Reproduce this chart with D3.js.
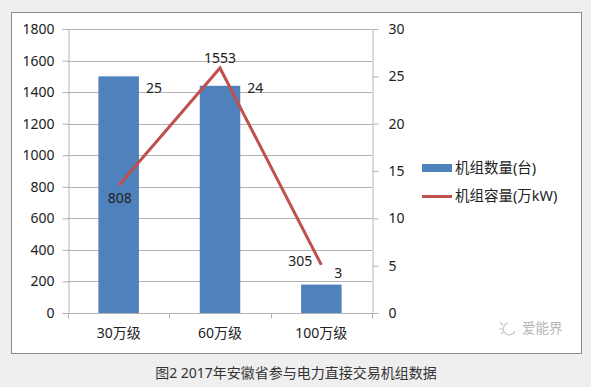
<!DOCTYPE html>
<html>
<head>
<meta charset="utf-8">
<script src="https://cdn.jsdelivr.net/npm/d3@7"></script>
<style>
  body { margin: 0; background: #efefef; }
  text { font-family: "Noto Sans", "Noto Sans CJK SC", sans-serif; }
</style>
</head>
<body>
<div id="chart"></div>
<script>
const categories = ["30万级", "60万级", "100万级"];
const unitCounts = [25, 24, 3]; // 机组数量(台), right axis
const capacities = [808, 1553, 305]; // 机组容量(万kW), left axis
const leftTicks = [0, 200, 400, 600, 800, 1000, 1200, 1400, 1600, 1800];
const rightTicks = [0, 5, 10, 15, 20, 25, 30];
const seriesNames = ["机组数量(台)", "机组容量(万kW)"];
const caption = "图2 2017年安徽省参与电力直接交易机组数据";

const width = 591, height = 387;
const plot = { left: 68, right: 372, top: 29, bottom: 313 };
const blue = "#4f81bd", red = "#c0504d", gridColor = "#b3b3b3";

const svg = d3.select("#chart").append("svg")
  .attr("width", width).attr("height", height);

// white chart panel
svg.append("rect")
  .attr("x", 11.5).attr("y", 12.5)
  .attr("width", 570).attr("height", 341)
  .attr("fill", "#fff").attr("stroke", "#8c8c8c");

const x = d3.scaleBand().domain(categories)
  .range([plot.left, plot.right]).paddingInner(0.6).paddingOuter(0.3);
const band = d3.scaleBand().domain(categories).range([plot.left, plot.right]);
const yL = d3.scaleLinear().domain([0, 1800]).range([plot.bottom, plot.top]);
const yR = d3.scaleLinear().domain([0, 30]).range([plot.bottom, plot.top]);

// gridlines
svg.append("g").selectAll("line").data(leftTicks).join("line")
  .attr("x1", plot.left).attr("x2", plot.right)
  .attr("y1", d => Math.round(yL(d)) + 0.5).attr("y2", d => Math.round(yL(d)) + 0.5)
  .attr("stroke", gridColor);

// left axis
const gL = svg.append("g").attr("transform", `translate(${plot.left + 0.5},0)`)
  .call(d3.axisLeft(yL).tickValues(leftTicks).tickFormat(d3.format("d")).tickSize(6).tickPadding(8));
// right axis
const gR = svg.append("g").attr("transform", `translate(${plot.right + 0.5},0)`)
  .call(d3.axisRight(yR).tickValues(rightTicks).tickSize(6).tickPadding(10));
// bottom axis
const gB = svg.append("g").attr("transform", `translate(0,${plot.bottom + 0.5})`)
  .call(d3.axisBottom(band).tickSize(0).tickPadding(15));
gB.selectAll(".cat-tick").data(d3.range(categories.length + 1)).join("line")
  .attr("class", "cat-tick")
  .attr("x1", i => Math.round(plot.left + i * band.bandwidth()) + 0.5)
  .attr("x2", i => Math.round(plot.left + i * band.bandwidth()) + 0.5)
  .attr("y1", 0).attr("y2", 5).attr("stroke", gridColor);

[gL, gR, gB].forEach(g => {
  g.select(".domain").attr("stroke", gridColor);
  g.selectAll(".tick line").attr("stroke", gridColor);
  g.selectAll(".tick text").attr("fill", "#222").style("font-size", "14px");
});
gB.select(".domain").attr("d", `M${plot.left},0H${plot.right}`);

// bars
svg.append("g").selectAll("rect").data(unitCounts).join("rect")
  .attr("x", (d, i) => x(categories[i]))
  .attr("width", x.bandwidth())
  .attr("y", d => yR(d))
  .attr("height", d => plot.bottom - yR(d))
  .attr("fill", blue);

// bar labels
svg.append("g").selectAll("text").data(unitCounts).join("text")
  .attr("x", (d, i) => i < 2 ? x(categories[i]) + x.bandwidth() + 7 : x(categories[i]) + x.bandwidth() / 2 + 17)
  .attr("y", (d, i) => i < 2 ? yR(25) + 17 : yR(d) - 7)
  .attr("text-anchor", (d, i) => i < 2 ? "start" : "middle")
  .attr("fill", "#222").style("font-size", "14px")
  .text(d => d);

// line
const cx = i => x(categories[i]) + x.bandwidth() / 2;
svg.append("path")
  .datum(capacities)
  .attr("d", d3.line().x((d, i) => cx(i)).y(d => yL(d)))
  .attr("fill", "none").attr("stroke", red).attr("stroke-width", 3)
  .attr("stroke-linejoin", "miter");

// line labels
const lineLabelOffset = [[1, 17], [0, -5], [-21, 1]];
svg.append("g").selectAll("text").data(capacities).join("text")
  .attr("x", (d, i) => cx(i) + lineLabelOffset[i][0])
  .attr("y", (d, i) => yL(d) + lineLabelOffset[i][1])
  .attr("text-anchor", "middle")
  .attr("fill", "#222").style("font-size", "14px")
  .text(d => d);

// legend
const legend = svg.append("g").attr("transform", "translate(422,168)");
legend.append("rect").attr("x", 0).attr("y", -4).attr("width", 30).attr("height", 8).attr("fill", blue);
legend.append("line").attr("x1", 0).attr("x2", 30).attr("y1", 28.5).attr("y2", 28.5)
  .attr("stroke", red).attr("stroke-width", 3);
legend.selectAll("text").data(seriesNames).join("text")
  .attr("x", 33).attr("y", (d, i) => i * 28 + 5)
  .attr("fill", "#222").style("font-size", "14.5px")
  .text(d => d);

// watermark
const wm = svg.append("g").attr("transform", "translate(500,328)");
wm.append("path")
  .attr("d", "M0,-6 l3,3 M-1,1 h4 M1,6 l3,-3 M8,-5 a6,6 0 1,0 7,8")
  .attr("fill", "none").attr("stroke", "#c8c8c8").attr("stroke-width", 1.2);
wm.append("text").attr("x", 22).attr("y", 5)
  .attr("fill", "#b5b5b5").style("font-size", "13.5px").text("爱能界");

// caption
svg.append("text")
  .attr("x", 296).attr("y", 378)
  .attr("text-anchor", "middle")
  .attr("fill", "#333").style("font-size", "14px")
  .text(caption);
</script>
</body>
</html>
